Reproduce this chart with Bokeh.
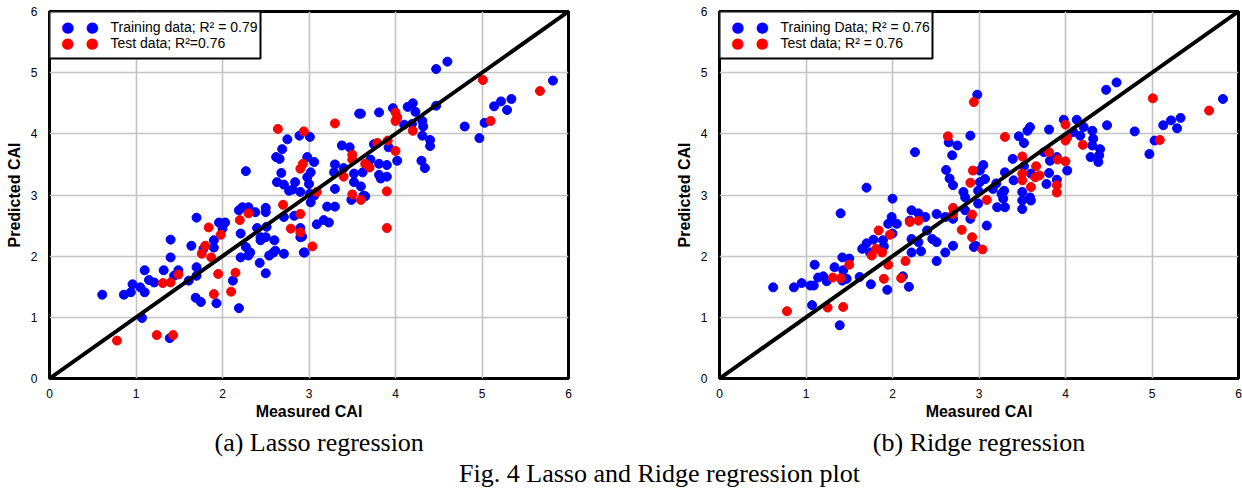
from bokeh.plotting import figure
from bokeh.models import Range1d, BoxAnnotation, Label, Title, Slope
from bokeh.layouts import column, row
from bokeh.embed import file_html
from bokeh.resources import INLINE
from bokeh.core.validation import silence
from bokeh.core.validation.warnings import MISSING_RENDERERS

silence(MISSING_RENDERERS, True)

ticks = [0, 1, 2, 3, 4, 5, 6]
tick_labels = ["0", "1", "2", "3", "4", "5", "6"]

x_title = "Measured CAI"
y_title = "Predicted CAI"

# ---------------- Lasso regression ----------------
lasso_train_x = [2.75, 2.89, 2.69, 2.62, 2.66, 2.27, 2.68, 2.98, 2.63, 2.71, 2.84, 2.81, 2.90, 2.98,
                 4.47, 4.60, 5.82, 5.34, 5.22, 5.14, 5.29, 4.80, 5.03, 4.97, 4.47, 4.20, 4.14, 4.23,
                 3.97, 3.58, 3.60, 3.81, 4.10, 4.19, 4.31, 4.32, 4.31, 4.40, 4.40, 3.01, 3.38, 3.47,
                 3.75, 3.92, 4.02, 4.30, 4.34, 3.71, 3.81, 3.90, 3.30, 3.40, 3.29, 3.52, 3.62, 3.81,
                 3.90, 3.83, 3.52, 3.60, 3.30, 3.00, 3.01, 3.06, 3.63, 3.06, 3.02,
                 3.49, 3.65, 3.21, 3.30, 3.09, 3.17, 3.23, 2.92, 2.95, 3.02,
                 0.61, 0.86, 0.94, 0.96, 1.05, 1.10, 1.07, 1.39, 1.10, 1.15, 1.21, 1.32, 1.40, 1.40,
                 1.44, 1.49, 1.61, 1.70, 1.70, 1.64, 1.70, 1.69, 1.75, 1.78, 1.90, 1.90, 1.96, 2.03,
                 2.00, 1.93, 2.12, 2.19, 2.21, 2.21, 2.27, 2.32, 2.30, 2.19, 2.23, 2.30, 2.38, 2.44,
                 2.44, 2.50, 2.50, 2.40, 2.51, 2.50, 2.60, 2.71, 2.59, 2.61, 2.54, 2.71, 2.50, 2.43,
                 2.83, 2.90, 2.94, 2.90, 2.77]
lasso_train_y = [3.91, 3.97, 3.75, 3.62, 3.59, 3.39, 3.36, 3.62, 3.21, 3.17, 3.21, 3.09, 3.05, 3.29,
                 5.06, 5.18, 4.87, 4.57, 4.53, 4.45, 4.39, 4.12, 4.18, 3.93, 4.46, 4.50, 4.44, 4.36,
                 4.42, 4.33, 4.33, 4.35, 4.15, 4.16, 4.21, 4.12, 3.97, 3.90, 3.80, 3.95, 3.81, 3.78,
                 3.83, 3.78, 3.56, 3.56, 3.44, 3.58, 3.51, 3.49, 3.50, 3.44, 3.37, 3.35, 3.37, 3.33,
                 3.30, 3.27, 3.21, 3.14, 3.10, 3.18, 3.02, 2.99, 2.99, 3.54, 3.37,
                 2.92, 2.98, 2.81, 2.81, 2.52, 2.59, 2.55, 2.32, 2.06, 2.88,
                 1.37, 1.37, 1.41, 1.54, 1.49, 1.41, 0.99, 0.66, 1.77, 1.61, 1.57, 1.77, 1.98, 2.27,
                 1.68, 1.77, 1.60, 1.82, 1.68, 2.17, 2.63, 1.32, 1.25, 2.12, 2.26, 2.14, 2.55, 2.55,
                 2.45, 1.23, 1.60, 1.15, 2.37, 1.98, 2.15, 2.06, 2.01, 2.75, 2.80, 2.80, 2.72, 2.31,
                 2.26, 2.79, 2.72, 2.46, 2.48, 2.31, 2.26, 2.64, 2.06, 2.09, 2.01, 2.04, 1.72, 1.89,
                 2.66, 2.46, 2.06, 2.31, 3.07]
lasso_test_x = [2.64, 2.94, 2.90, 2.93, 5.01, 5.67, 5.10, 4.00, 4.02, 4.00, 3.30, 4.20, 3.79, 3.91,
                4.00, 3.50, 3.50, 3.65, 3.70, 3.40, 3.90, 3.09, 3.50, 3.60, 3.90, 2.90, 2.90, 3.04,
                0.78, 1.24, 1.43, 1.31, 1.40, 1.49, 1.84, 1.76, 1.80, 1.87, 1.98, 1.95, 1.90, 2.15,
                2.10, 2.20, 2.30, 2.70, 2.79]
lasso_test_y = [4.08, 4.04, 3.43, 3.51, 4.88, 4.70, 4.21, 4.35, 4.27, 4.21, 4.17, 4.05, 3.85, 3.89,
                3.72, 3.66, 3.58, 3.51, 3.45, 3.30, 3.06, 3.05, 3.01, 2.92, 2.46, 2.69, 2.39, 2.16,
                0.62, 0.71, 0.71, 1.56, 1.57, 1.70, 2.47, 2.04, 2.17, 1.98, 2.35, 1.71, 1.38, 1.73,
                1.42, 2.59, 2.70, 2.84, 2.45]
lasso_legend = ["Training data; R\u00b2 = 0.79", "Test data; R\u00b2=0.76"]
lasso_caption = "(a) Lasso regression"

# ---------------- Ridge regression ----------------
ridge_train_x = [2.98, 2.90, 2.65, 2.75, 2.69, 2.26, 1.70, 2.00, 2.62, 2.66, 2.70, 2.82, 2.84,
                 4.47, 4.59, 5.82, 5.33, 5.22, 5.13, 5.29, 4.80, 5.03, 4.97, 4.48, 4.13, 4.21, 4.31,
                 4.32, 4.31, 4.40, 4.39, 4.29, 4.38, 3.98, 4.09, 4.17, 3.59, 3.56, 3.81, 3.46, 3.52,
                 3.75, 3.82, 4.02, 3.90, 3.39, 3.30, 3.40, 3.52, 3.60, 3.81, 3.90, 3.78, 3.50, 3.59,
                 3.29, 3.26, 3.05, 3.01, 3.07, 3.01, 2.99, 3.20, 3.16, 3.28,
                 3.28, 3.21, 3.30, 3.50, 3.50, 3.60, 3.09, 2.90, 2.94, 2.99,
                 0.62, 0.86, 0.95, 1.05, 1.09, 1.07, 1.10, 1.14, 1.20, 1.24, 1.33, 1.42, 1.40, 1.42,
                 1.47, 1.50, 1.39, 1.43, 1.62, 1.75, 1.65, 1.70, 1.78, 1.74, 1.89, 1.90, 1.99, 1.95,
                 2.05, 2.00, 1.94, 2.12, 2.19, 2.20, 2.22, 2.30, 2.38, 2.22, 2.30, 2.22, 2.33, 2.40,
                 2.46, 2.51, 2.51, 2.61, 2.70, 2.61, 2.51, 2.70, 2.84, 2.96]
ridge_train_y = [4.64, 3.97, 3.86, 3.81, 3.65, 3.70, 3.12, 2.94, 3.41, 3.27, 3.16, 3.05, 2.96,
                 4.72, 4.84, 4.57, 4.26, 4.22, 4.14, 4.09, 4.04, 3.89, 3.67, 4.14, 4.23, 4.11, 4.05,
                 3.92, 3.81, 3.75, 3.65, 3.62, 3.54, 4.23, 4.03, 3.97, 4.11, 4.05, 4.07, 3.96, 3.85,
                 3.70, 3.56, 3.40, 3.62, 3.59, 3.37, 3.24, 3.47, 3.35, 3.36, 3.25, 3.18, 3.05, 2.96,
                 3.07, 3.02, 3.49, 3.40, 3.26, 3.21, 3.07, 3.19, 3.10, 3.05,
                 2.94, 2.80, 2.80, 2.91, 2.77, 2.91, 2.50, 2.61, 2.15, 2.86,
                 1.49, 1.49, 1.56, 1.52, 1.52, 1.20, 1.86, 1.65, 1.67, 1.59, 1.82, 1.98, 2.70, 1.60,
                 1.63, 1.96, 0.87, 1.77, 1.66, 1.54, 2.12, 2.21, 2.27, 2.06, 2.26, 2.16, 2.64, 2.53,
                 2.53, 2.37, 1.45, 1.67, 1.50, 2.58, 2.75, 2.70, 2.64, 2.28, 2.23, 2.06, 2.08, 2.42,
                 2.28, 2.23, 2.69, 2.64, 2.61, 2.06, 1.92, 2.17, 2.75, 2.17]
ridge_test_x = [2.94, 2.64, 2.93, 2.90, 5.01, 5.66, 5.09, 4.00, 4.02, 4.00, 4.20, 3.30, 3.81, 3.91,
                4.00, 3.50, 3.66, 3.70, 3.65, 3.50, 3.50, 3.60, 3.90, 3.90, 3.09,
                2.92, 2.92, 3.04, 0.78, 1.25, 1.43, 1.31, 1.40, 1.50, 1.84, 1.97, 1.81, 1.88, 1.76,
                1.95, 1.90, 2.10, 2.15, 2.20, 2.30, 2.70, 2.70, 2.80]
ridge_test_y = [4.52, 3.96, 3.40, 3.20, 4.58, 4.38, 3.90, 4.15, 3.94, 3.89, 3.82, 3.95, 3.70, 3.58,
                3.55, 3.63, 3.47, 3.32, 3.29, 3.35, 3.24, 3.13, 3.16, 3.04, 2.92,
                2.68, 2.31, 2.11, 1.10, 1.16, 1.17, 1.65, 1.64, 1.86, 2.42, 2.35, 2.12, 2.06, 2.01,
                1.86, 1.63, 1.64, 1.92, 2.56, 2.58, 2.79, 2.69, 2.43]
ridge_legend = ["Training Data; R\u00b2 = 0.76", "Test data; R\u00b2 = 0.76"]
ridge_caption = "(b) Ridge regression"

figure_caption = "Fig. 4 Lasso and Ridge regression plot"

SANS = "Liberation Sans"
SERIF = "Liberation Serif"
FRAME_W, FRAME_H = 519, 367


def make_panel(tx, ty, sx, sy, legend_texts, caption, caption_align, caption_offset,
               right_border, legend_w):
    p = figure(frame_width=FRAME_W, frame_height=FRAME_H,
               x_range=Range1d(0, 6), y_range=Range1d(0, 6),
               toolbar_location=None, output_backend="svg",
               min_border_left=49, min_border_top=11, min_border_right=right_border,
               min_border_bottom=0,
               background_fill_color="white", border_fill_color="white")
    p.outline_line_color = "black"
    p.outline_line_width = 3
    p.outline_line_alpha = 1

    for ax in (p.xaxis[0], p.yaxis[0]):
        ax.ticker = ticks
        ax.major_label_overrides = dict(zip(ticks, tick_labels))
        ax.axis_line_color = None
        ax.major_tick_line_color = None
        ax.minor_tick_line_color = None
        ax.major_tick_out = 0
        ax.major_tick_in = 0
        ax.minor_tick_out = 0
        ax.minor_tick_in = 0
        ax.major_label_text_font = SANS
        ax.major_label_text_font_size = "12px"
        ax.major_label_text_color = "black"
        ax.axis_label_text_font = SANS
        ax.axis_label_text_font_size = "16px"
        ax.axis_label_text_font_style = "bold"
        ax.axis_label_text_color = "black"
    p.xaxis.axis_label = x_title
    p.yaxis.axis_label = y_title
    p.xaxis.major_label_standoff = 10
    p.xaxis.axis_label_standoff = 2
    p.yaxis.major_label_standoff = 12
    p.yaxis.axis_label_standoff = 5

    p.xgrid.ticker = ticks
    p.ygrid.ticker = ticks
    p.grid.grid_line_color = "#c4c4c4"
    p.grid.grid_line_width = 1.6

    p.scatter(tx, ty, size=9, color="#0000ff", line_color="#0000ff")
    p.scatter(sx, sy, size=9, color="#ff0000", line_color="#ff0000")
    p.add_layout(Slope(gradient=1, y_intercept=0, line_color="black", line_width=4))

    # legend box (screen units, relative to the frame)
    p.add_layout(BoxAnnotation(left=0, right=legend_w, bottom=FRAME_H - 47, top=FRAME_H,
                               left_units="screen", right_units="screen",
                               bottom_units="screen", top_units="screen",
                               fill_color="white", fill_alpha=1,
                               line_color="black", line_width=2, line_alpha=1))
    for i, (txt, col) in enumerate(zip(legend_texts, ["#0000ff", "#ff0000"])):
        yy = FRAME_H - 15 - 16.3 * i
        for xx in (18.3, 42.7):
            p.add_layout(Label(x=xx, y=yy, x_units="screen", y_units="screen", text="\u25cf",
                               text_color=col, text_font="DejaVu Sans", text_font_size="15px",
                               text_align="center", text_baseline="middle"))
        p.add_layout(Label(x=61, y=yy, x_units="screen", y_units="screen", text=txt,
                           text_color="black", text_font=SANS, text_font_size="14px",
                           text_align="left", text_baseline="middle"))

    p.add_layout(Title(text=caption, align=caption_align, offset=caption_offset, standoff=7,
                       text_font=SERIF, text_font_size="26px", text_font_style="normal",
                       text_color="black"), "below")
    return p


p1 = make_panel(lasso_train_x, lasso_train_y, lasso_test_x, lasso_test_y,
                lasso_legend, lasso_caption, "left", 165, 102, 211)
p2 = make_panel(ridge_train_x, ridge_train_y, ridge_test_x, ridge_test_y,
                ridge_legend, ridge_caption, "center", 0, 4, 213)

p3 = figure(width=1242, height=28, toolbar_location=None, output_backend="svg",
            x_range=Range1d(0, 1), y_range=Range1d(0, 1),
            min_border_left=0, min_border_right=0, min_border_top=0, min_border_bottom=0,
            outline_line_color=None)
p3.axis.visible = False
p3.grid.visible = False
p3.add_layout(Label(x=659, y=15, x_units="screen", y_units="screen", text=figure_caption,
                    text_font=SERIF, text_font_size="26px", text_color="black",
                    text_align="center", text_baseline="middle"))

layout = column(row(p1, p2), p3)

open("out.html", "w").write(file_html(layout, INLINE))
